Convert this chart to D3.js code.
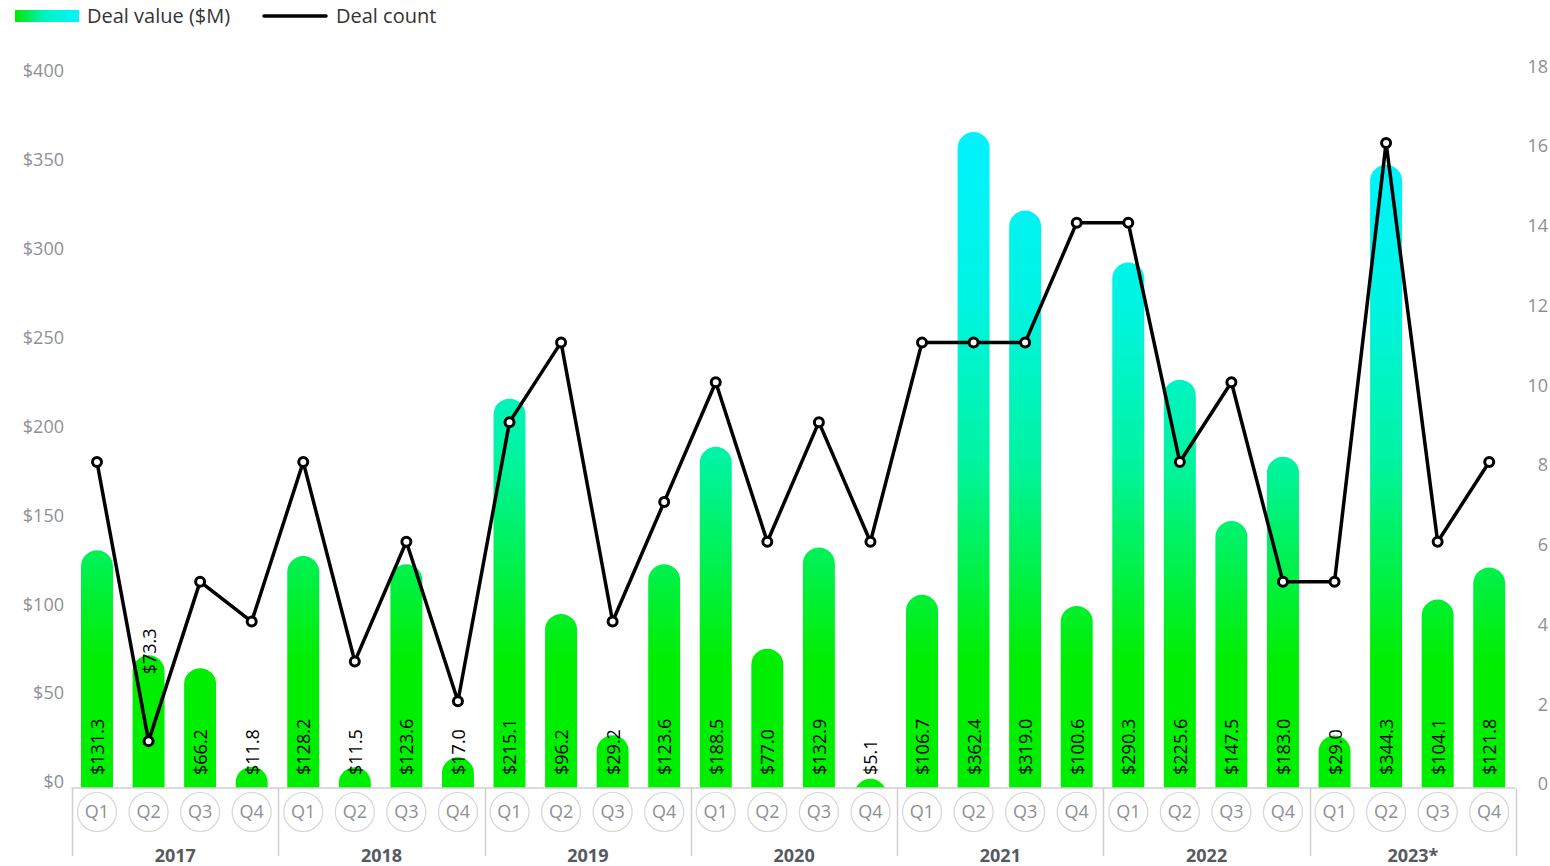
<!DOCTYPE html>
<html>
<head>
<meta charset="utf-8">
<script src="https://cdn.jsdelivr.net/npm/d3@7"></script>
<style>
  html, body { margin: 0; padding: 0; background: #fff; }
  svg { display: block; font-family: "Open Sans", "Noto Sans", sans-serif; }
</style>
</head>
<body>
<svg id="chart" width="1550" height="866"></svg>
<script>
// data
const years = ['2017', '2018', '2019', '2020', '2021', '2022', '2023*']
const quarters = ['Q1', 'Q2', 'Q3', 'Q4']
const dealValue = [
  131.3, 73.3, 66.2, 11.8,
  128.2, 11.5, 123.6, 17.0,
  215.1, 96.2, 29.2, 123.6,
  188.5, 77.0, 132.9, 5.1,
  106.7, 362.4, 319.0, 100.6,
  290.3, 225.6, 147.5, 183.0,
  29.0, 344.3, 104.1, 121.8
]
const dealCount = [
  8, 1, 5, 4,
  8, 3, 6, 2,
  9, 11, 4, 7,
  10, 6, 9, 6,
  11, 11, 11, 14,
  14, 8, 10, 5,
  5, 16, 6, 8
]
const valueTicks = [0, 50, 100, 150, 200, 250, 300, 350, 400]
const countTicks = [0, 2, 4, 6, 8, 10, 12, 14, 16, 18]

const width = 1550, height = 866
const baseline = 788
const svg = d3.select('#chart')

const cats = d3.range(dealValue.length)
const x = d3.scaleBand()
  .domain(cats)
  .range([71.2, 1515])
  .paddingInner(0.38)
  .paddingOuter(0.19)
const step = x.step()
const bw = x.bandwidth()
const cx = i => x(i) + bw / 2

// bars sit on the axis line, tick labels sit a bit higher
const yBar = d3.scaleLinear().domain([0, 400]).range([baseline, 64])
const yTick = d3.scaleLinear().domain([0, 400]).range([782, 71])
const yCount = d3.scaleLinear().domain([0, 18]).range([781, 63.3])

const defs = svg.append('defs')
const grad = defs.append('linearGradient')
  .attr('id', 'barGrad')
  .attr('gradientUnits', 'userSpaceOnUse')
  .attr('x1', 0).attr('x2', 0)
  .attr('y1', baseline).attr('y2', 130)
;[[0, '#00ee00'], [0.19, '#00ee00'], [0.5, '#00f4a2'], [0.74, '#00f4e2'], [1, '#00f2ff']]
  .forEach(s => grad.append('stop').attr('offset', s[0]).attr('stop-color', s[1]))

const lgGrad = defs.append('linearGradient').attr('id', 'legendGrad')
lgGrad.append('stop').attr('offset', 0).attr('stop-color', '#00e600')
lgGrad.append('stop').attr('offset', 0.45).attr('stop-color', '#00f2c0')
lgGrad.append('stop').attr('offset', 1).attr('stop-color', '#00f4ff')

defs.append('clipPath').attr('id', 'plotClip')
  .append('rect').attr('x', 0).attr('y', 0).attr('width', width).attr('height', baseline)

// legend
const legend = svg.append('g')
legend.append('rect').attr('x', 15).attr('y', 10).attr('width', 64).attr('height', 12)
  .attr('fill', 'url(#legendGrad)')
legend.append('text').attr('x', 87).attr('y', 16).attr('dy', '0.35em')
  .attr('font-size', 20).attr('fill', '#333').text('Deal value ($M)')
legend.append('line').attr('x1', 264).attr('x2', 326).attr('y1', 16).attr('y2', 16)
  .attr('stroke', '#000').attr('stroke-width', 3.5).attr('stroke-linecap', 'round')
legend.append('text').attr('x', 336).attr('y', 16).attr('dy', '0.35em')
  .attr('font-size', 20).attr('fill', '#333').text('Deal count')

// axis labels
svg.append('g').selectAll('text')
  .data(valueTicks).enter().append('text')
  .attr('x', 64).attr('y', d => yTick(d)).attr('dy', '0.35em')
  .attr('text-anchor', 'end').attr('font-size', 18).attr('fill', '#8d9096')
  .text(d => '$' + d)

svg.append('g').selectAll('text')
  .data(countTicks).enter().append('text')
  .attr('x', 1548).attr('y', d => yCount(d) + 3).attr('dy', '0.35em')
  .attr('text-anchor', 'end').attr('font-size', 18).attr('fill', '#8d9096')
  .text(d => d)

// bars with round tops
function barPath(i) {
  const x0 = x(i), x1 = x0 + bw, r = bw / 2
  const top = yBar(dealValue[i])
  const bottom = Math.max(baseline, top + r)
  return `M${x0},${bottom}V${top + r}A${r},${r} 0 0 1 ${x1},${top + r}V${bottom}Z`
}
svg.append('g').attr('clip-path', 'url(#plotClip)')
  .selectAll('path').data(cats).enter().append('path')
  .attr('d', barPath)
  .attr('fill', 'url(#barGrad)')

// bottom axis
const axis = svg.append('g')
axis.append('line').attr('x1', 71.5).attr('x2', 1515).attr('y1', baseline).attr('y2', baseline)
  .attr('stroke', '#cfcfcf').attr('stroke-width', 1.5)
const yearEdges = d3.range(years.length + 1).map(k => 71.2 + k * 4 * step)
axis.selectAll('.div').data(yearEdges).enter().append('line')
  .attr('x1', d => Math.round(d) + 1.5).attr('x2', d => Math.round(d) + 1.5)
  .attr('y1', baseline).attr('y2', 856)
  .attr('stroke', '#cfcfcf').attr('stroke-width', 1.5)

const qg = axis.selectAll('.q').data(cats).enter().append('g')
  .attr('transform', i => `translate(${cx(i)},812)`)
qg.append('circle').attr('r', 19.5).attr('fill', '#fff')
  .attr('stroke', '#d6d6d6').attr('stroke-width', 1.2)
qg.append('text').attr('dy', '0.35em').attr('text-anchor', 'middle')
  .attr('font-size', 18).attr('fill', '#8d9096')
  .text(i => quarters[i % 4])

axis.selectAll('.yr').data(years).enter().append('text')
  .attr('x', (d, k) => (yearEdges[k] + yearEdges[k + 1]) / 2 + 1)
  .attr('y', 862)
  .attr('text-anchor', 'middle').attr('font-size', 18).attr('font-weight', 'bold')
  .attr('fill', '#555a61')
  .text(d => d)

// data labels, moved to the bar top when the count marker sits on them
const labels = svg.append('g').selectAll('text').data(cats).enter().append('text')
  .attr('font-size', 18).attr('fill', '#000')
  .attr('dominant-baseline', 'central')
  .text(i => '$' + dealValue[i].toFixed(1))
labels.each(function (i) {
  const len = this.getComputedTextLength()
  const start = 775
  const py = yCount(dealCount[i])
  const t = d3.select(this)
  if (py > start - len - 6 && py < start + 6) {
    t.attr('text-anchor', 'middle')
      .attr('transform', `translate(${cx(i)},${yBar(dealValue[i]) - 4}) rotate(-90)`)
  } else {
    t.attr('text-anchor', 'start')
      .attr('transform', `translate(${cx(i)},${start}) rotate(-90)`)
  }
})

// deal count line
const line = d3.line().x(i => cx(i)).y(i => yCount(dealCount[i]))
svg.append('path').datum(cats)
  .attr('d', line).attr('fill', 'none')
  .attr('stroke', '#000').attr('stroke-width', 3.5).attr('stroke-linejoin', 'round')
svg.append('g').selectAll('circle').data(cats).enter().append('circle')
  .attr('cx', i => cx(i)).attr('cy', i => yCount(dealCount[i]))
  .attr('r', 4.5).attr('fill', '#fff').attr('stroke', '#000').attr('stroke-width', 3)
</script>
</body>
</html>
